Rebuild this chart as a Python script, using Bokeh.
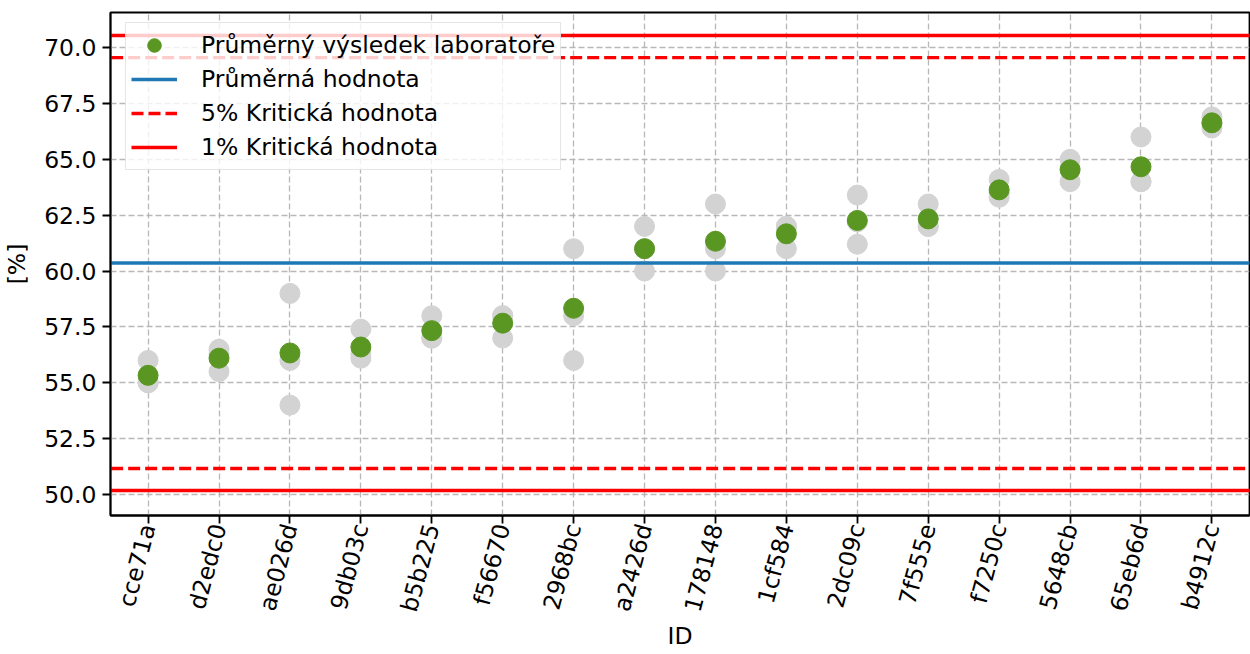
import math
import numpy as np
from bokeh.plotting import figure
from bokeh.models import (FixedTicker, PrintfTickFormatter, Range1d, Legend, LegendItem)
from bokeh.embed import file_html
from bokeh.resources import INLINE

# ---- data -------------------------------------------------------------
ids = ["cce71a", "d2edc0", "ae026d", "9db03c", "b5b225", "f56670", "2968bc", "a2426d",
       "178148", "1cf584", "2dc09c", "7f555e", "f7250c", "5648cb", "65eb6d", "b4912c"]
rep1 = [56.0, 56.5, 59.0, 57.4, 58.0, 58.0, 61.0, 62.0, 63.0, 62.0, 63.4, 63.0, 64.1, 65.0, 66.0, 66.9]
rep2 = [55.0, 56.3, 56.0, 56.3, 57.0, 58.0, 58.0, 61.0, 61.0, 62.0, 62.2, 62.0, 63.5, 64.6, 64.0, 66.6]
rep3 = [55.0, 55.5, 54.0, 56.1, 57.0, 57.0, 56.0, 60.0, 60.0, 61.0, 61.2, 62.0, 63.3, 64.0, 64.0, 66.4]
mean_value = [60.36]
crit5 = [51.16, 69.55]
crit1 = [50.18, 70.54]
y_ticks = [50.0, 52.5, 55.0, 57.5, 60.0, 62.5, 65.0, 67.5, 70.0]
labels = ["Průměrný výsledek laboratoře", "Průměrná hodnota",
          "5% Kritická hodnota", "1% Kritická hodnota"]

FONT = "DejaVu Sans"
FS = "23.5px"
GREEN = "#5a9622"
GRAY = "#d3d3d3"
RED = "#ff0000"
BLUE = "#1f77b4"

n = len(ids)
xs = list(range(n))
lab_mean = list(np.mean(np.array([rep1, rep2, rep3]), axis=0))

p = figure(width=1250, height=654, output_backend="svg", toolbar_location=None,
           x_range=Range1d(-0.53, n - 1 + 0.53), y_range=Range1d(49.06, 71.57),
           min_border_left=110, min_border_top=12, min_border_bottom=139, min_border_right=1)

# replicate points
for rep in (rep1, rep2, rep3):
    p.scatter(x=xs, y=rep, size=20, marker="circle", fill_color=GRAY, line_color=GRAY)

r_mean = p.scatter(x=xs, y=lab_mean, size=20, marker="circle", fill_color=GREEN, line_color=GREEN)

xl = [-1, n]
r_avg = p.line(x=xl, y=[mean_value[0]] * 2, line_color=BLUE, line_width=3.4)
r5 = None
for v in crit5:
    r5 = p.line(x=xl, y=[v, v], line_color=RED, line_width=3.4, line_dash="12 5")
r1 = None
for v in crit1:
    r1 = p.line(x=xl, y=[v, v], line_color=RED, line_width=3.4)

# axes
p.xaxis.ticker = FixedTicker(ticks=xs)
p.xaxis.major_label_overrides = {i: s for i, s in enumerate(ids)}
p.xaxis.major_label_orientation = math.radians(75)
p.yaxis.ticker = FixedTicker(ticks=y_ticks)
p.yaxis.formatter = PrintfTickFormatter(format="%.1f")
p.xaxis.axis_label = "ID"
p.yaxis.axis_label = "[%]"
for ax in (p.xaxis, p.yaxis):
    ax.major_label_text_font = FONT
    ax.major_label_text_font_size = FS
    ax.major_label_text_color = "black"
    ax.axis_label_text_font = FONT
    ax.axis_label_text_font_size = FS
    ax.axis_label_text_font_style = "normal"
    ax.axis_label_text_color = "black"
    ax.major_tick_out = 8
    ax.major_tick_in = 0
    ax.minor_tick_out = 0
    ax.minor_tick_in = 0
    ax.major_tick_line_width = 1.8
    ax.major_tick_line_color = "black"
    ax.axis_line_width = 1.8
    ax.axis_line_color = "black"
p.yaxis.major_label_standoff = 6
p.yaxis.axis_label_standoff = 10
p.xaxis.major_label_standoff = 1
p.xaxis.axis_label_standoff = 1

p.outline_line_color = "black"
p.outline_line_width = 1.8
p.outline_line_alpha = 1.0

for g in (p.xgrid, p.ygrid):
    g.grid_line_color = "#b0b0b0"
    g.grid_line_width = 1.3
    g.grid_line_dash = "6 3"
    g.grid_line_alpha = 0.9
p.xgrid.ticker = FixedTicker(ticks=xs)
p.ygrid.ticker = FixedTicker(ticks=y_ticks)

legend = Legend(items=[LegendItem(label=labels[0], renderers=[r_mean]),
                       LegendItem(label=labels[1], renderers=[r_avg]),
                       LegendItem(label=labels[2], renderers=[r5]),
                       LegendItem(label=labels[3], renderers=[r1])],
                location=(15, 345))
legend.margin = 0
legend.padding = 5
legend.spacing = 0
legend.glyph_height = 34
legend.glyph_width = 46
legend.label_height = 20
legend.label_standoff = 24
legend.label_text_font = FONT
legend.label_text_font_size = FS
legend.label_text_color = "black"
legend.border_line_color = "#cccccc"
legend.border_line_width = 1.5
legend.background_fill_color = "white"
legend.background_fill_alpha = 0.8
p.add_layout(legend)

p.background_fill_color = "white"
p.border_fill_color = "white"

open("out.html", "w").write(file_html(p, INLINE))
